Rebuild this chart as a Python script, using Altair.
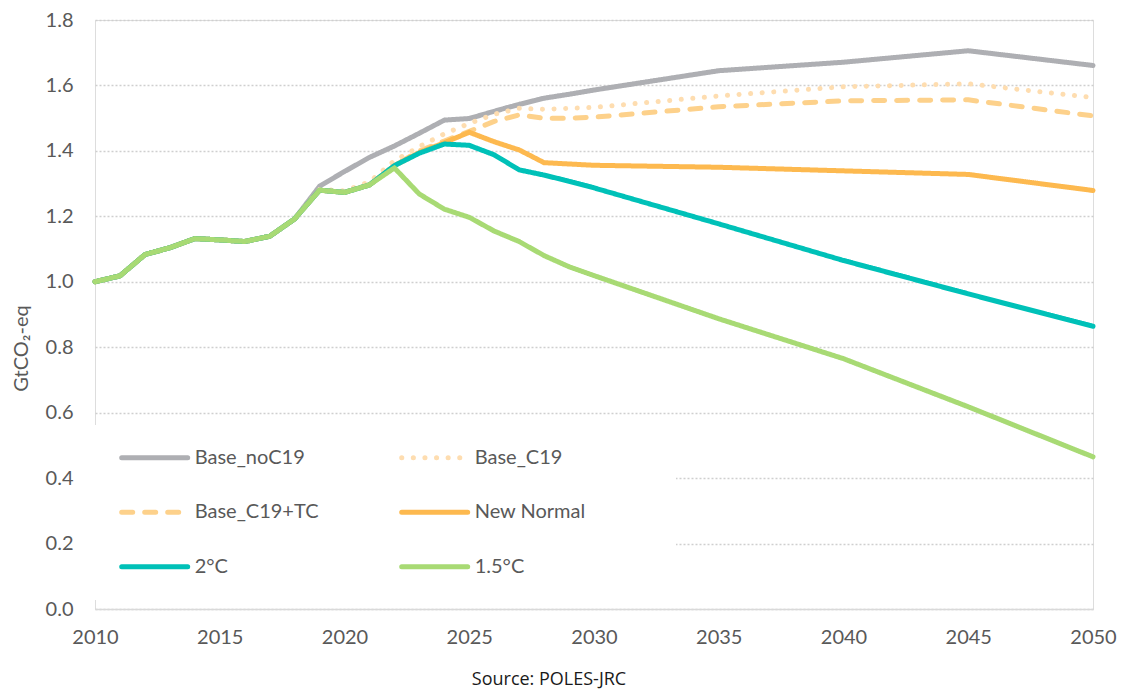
import altair as alt
import pandas as pd

years = list(range(2010, 2031)) + [2035, 2040, 2045, 2050]

hist = [1.000, 1.018, 1.083, 1.104, 1.132, 1.128, 1.123, 1.139, 1.192]

base_noc19 = hist + [1.292, 1.337, 1.380, 1.415, 1.454, 1.494, 1.499, 1.521, 1.542, 1.561, 1.573, 1.586,
                     1.645, 1.671, 1.706, 1.661]
base_c19 = hist + [1.282, 1.278, 1.305, 1.370, 1.413, 1.452, 1.484, 1.512, 1.530, 1.527, 1.530, 1.533,
                   1.568, 1.596, 1.605, 1.563]
base_c19_tc = hist + [1.280, 1.273, 1.296, 1.355, 1.400, 1.430, 1.460, 1.490, 1.510, 1.500, 1.500, 1.503,
                      1.535, 1.553, 1.556, 1.507]
new_normal = hist + [1.280, 1.273, 1.296, 1.355, 1.395, 1.425, 1.457, 1.428, 1.403, 1.364, 1.360, 1.356,
                     1.350, 1.339, 1.328, 1.279]
two_c = hist + [1.280, 1.273, 1.296, 1.355, 1.393, 1.421, 1.417, 1.388, 1.342, 1.326, 1.307, 1.287,
                1.177, 1.065, 0.963, 0.864]
one5_c = hist + [1.280, 1.273, 1.296, 1.348, 1.268, 1.222, 1.197, 1.155, 1.123, 1.080, 1.046, 1.019,
                 0.887, 0.765, 0.618, 0.465]

names = ["Base_noC19", "Base_C19", "Base_C19+TC", "New Normal", "2°C", "1.5°C"]
values = [base_noc19, base_c19, base_c19_tc, new_normal, two_c, one5_c]
colors = ["#AEAFB3", "#FEDDB0", "#FDD18B", "#FDB94F", "#00C1B8", "#A8DA74"]
dashes = [[1, 0], [0.1, 11.5], [11, 12], [1, 0], [1, 0], [1, 0]]

x_ticks = [2010, 2015, 2020, 2025, 2030, 2035, 2040, 2045, 2050]
y_ticks = [0.0, 0.2, 0.4, 0.6, 0.8, 1.0, 1.2, 1.4, 1.6, 1.8]

FONT = "Lato"
TXT = "#595959"
W, H = 998, 589

rows = []
for n, vals in zip(names, values):
    for yr, v in zip(years, vals):
        rows.append({"series": n, "year": yr, "value": v})
df = pd.DataFrame(rows)

x_enc = alt.X("year:Q",
              scale=alt.Scale(domain=[2010, 2050], nice=False, zero=False),
              axis=alt.Axis(values=x_ticks, format="d", grid=False, ticks=False,
                            domain=True, domainColor="#D9D9D9", domainWidth=1.5,
                            labelFont=FONT, labelFontSize=20, labelColor=TXT,
                            labelPadding=18, labelFlush=False, labelOverlap=False,
                            title=None))
y_enc = alt.Y("value:Q",
              scale=alt.Scale(domain=[0, 1.8], nice=False, zero=True),
              axis=alt.Axis(values=y_ticks, format=".1f", grid=True, gridDash=[2, 2],
                            gridColor="#CFCFCF", gridWidth=1.3, domain=False, ticks=False,
                            labelFont=FONT, labelFontSize=20, labelColor=TXT, labelPadding=22,
                            labelFlush=False,
                            title="GtCO₂-eq", titleFont=FONT, titleFontSize=20,
                            titleFontWeight="normal", titleColor=TXT, titleAngle=-90,
                            titleX=-74, titleY=328, titleAlign="center",
                            titleBaseline="middle"))

draw_order = ["Base_noC19", "Base_C19+TC", "Base_C19", "New Normal", "2°C", "1.5°C"]
layers = []
for n in draw_order:
    i = names.index(n)
    layers.append(
        alt.Chart(df[df.series == n]).mark_line(
            color=colors[i], strokeDash=dashes[i], strokeWidth=5,
            strokeCap="round", strokeJoin="round"
        ).encode(x=x_enc, y=y_enc)
    )

# legend background
bg = alt.Chart(pd.DataFrame({"k": [0]})).mark_rect(fill="white").encode(
    x=alt.value(0), x2=alt.value(581), y=alt.value(405), y2=alt.value(580))
layers.append(bg)

for i, n in enumerate(names):
    col, row = i % 2, i // 2
    lx = 26.7 + col * 280
    ly = 437.7 + row * 54.5
    d = pd.DataFrame({"name": [n]})
    layers.append(alt.Chart(d).mark_rule(
        color=colors[i], strokeDash=dashes[i], strokeWidth=5, strokeCap="round"
    ).encode(x=alt.value(lx), x2=alt.value(lx + 66), y=alt.value(ly)))
    layers.append(alt.Chart(d).mark_text(
        align="left", baseline="middle", font=FONT, fontSize=20, color=TXT
    ).encode(x=alt.value(lx + 73), y=alt.value(ly), text="name:N"))

src = alt.Chart(pd.DataFrame({"t": ["Source: POLES-JRC"]})).mark_text(
    align="center", baseline="middle", font="Open Sans", fontSize=18, color="#1A1A1A"
).encode(x=alt.value(454), y=alt.value(660), text="t:N")
layers.append(src)

chart = alt.layer(*layers).properties(
    width=W, height=H,
    autosize=alt.AutoSizeParams(type="none"),
    padding={"left": 87, "top": 12, "right": 25, "bottom": 80},
).configure_view(stroke=None).configure(background="white")

chart.save("out.html", embed_options={"renderer": "svg", "actions": False})
